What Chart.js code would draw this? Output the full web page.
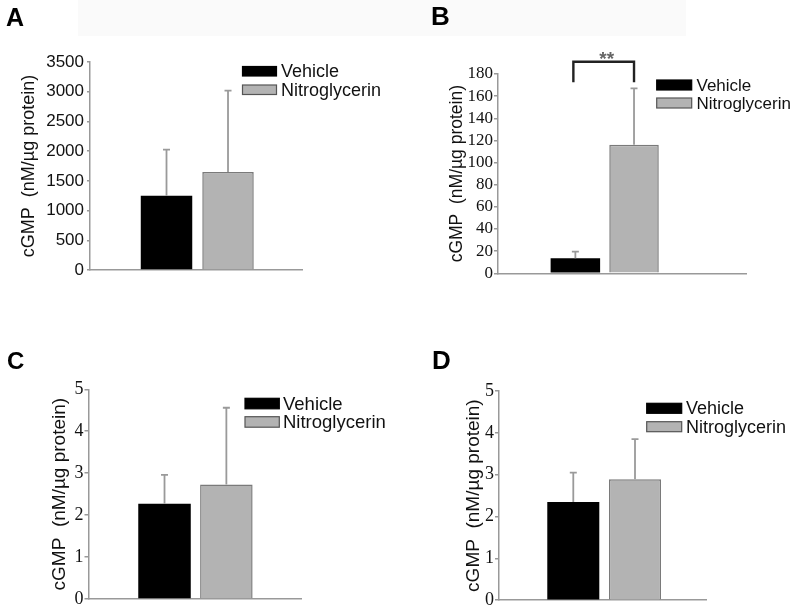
<!DOCTYPE html>
<html>
<head>
<meta charset="utf-8">
<script src="https://cdn.jsdelivr.net/npm/chart.js@4/dist/chart.umd.min.js"></script>
<style>
  html, body { margin: 0; padding: 0; background: #fff; }
  body { width: 800px; height: 612px; position: relative; overflow: hidden; font-family: "Liberation Sans", Arial, sans-serif; }
  .band { position: absolute; left: 78px; top: 0; width: 608px; height: 36px; background: #fafafa; }
  .panel { position: absolute; width: 400px; height: 306px; }
  .panel canvas { display: block; }
  .letter { position: absolute; font-weight: bold; line-height: 1; color: #000; font-family: "Liberation Sans", Arial, sans-serif; }
</style>
</head>
<body>
<div class="band"></div>
<div class="panel" style="left:0;top:0"><canvas id="cA" width="400" height="306"></canvas></div>
<div class="panel" style="left:400px;top:0"><canvas id="cB" width="400" height="306"></canvas></div>
<div class="panel" style="left:0;top:306px"><canvas id="cC" width="400" height="306"></canvas></div>
<div class="panel" style="left:400px;top:306px"><canvas id="cD" width="400" height="306"></canvas></div>
<div class="letter" style="left:6px;top:5px;font-size:25px">A</div>
<div class="letter" style="left:431px;top:3px;font-size:26px">B</div>
<div class="letter" style="left:7px;top:349px;font-size:24px">C</div>
<div class="letter" style="left:432px;top:347px;font-size:26px">D</div>
<script>
// ---------------- DATA ----------------
const categories = ['Vehicle', 'Nitroglycerin'];

const meansA  = [1250, 1650];
const errorsA = [775, 1370];
const ticksA  = [0, 500, 1000, 1500, 2000, 2500, 3000, 3500];

const meansB  = [13.5, 116];
const errorsB = [6, 51];
const ticksB  = [0, 20, 40, 60, 80, 100, 120, 140, 160, 180];

const meansC  = [2.27, 2.73];
const errorsC = [0.69, 1.83];
const ticksC  = [0, 1, 2, 3, 4, 5];

const meansD  = [2.35, 2.89];
const errorsD = [0.70, 0.96];
const ticksD  = [0, 1, 2, 3, 4, 5];

const yTitle = 'cGMP  (nM/\u00B5g protein)';
const sigB = { legLow: 172.5, barTop: 191, label: '**' };

// ---------------- STYLE ----------------
const SANS = '"Liberation Sans", Arial, sans-serif';
const SERIF = '"Liberation Serif", "Times New Roman", serif';
const barFill = ['#000000', '#b3b3b3'];
const barBorder = ['#000000', '#7a7a7a'];
const axisColor = '#999999';
const errColor = '#9a9a9a';

const panels = [
  { id: 'cA', means: meansA, errors: errorsA, ticks: ticksA,
    area: { l: 90, r: 302, t: 62, b: 270 }, titleX: 29, titleSize: 18,
    xMin: -1.244, xMax: 2.203, bp: 0.837,
    tickFont: { family: SANS, size: 17 }, tickLen: 3, tickPad: 3,
    legend: { x: 242.5, y: 66.5, w: 34, h: 9.5, dy: 18.5, tx: 281, size: 18 } },
  { id: 'cB', means: meansB, errors: errorsB, ticks: ticksB,
    area: { l: 98, r: 346.7, t: 74, b: 273.3 }, titleX: 57.5, titleSize: 17.5,
    xMin: -1.319, xMax: 2.921, bp: 0.844,
    tickFont: { family: SERIF, size: 17 }, tickLen: 4, tickPad: 1,
    legend: { x: 256.7, y: 80, w: 35, h: 10, dy: 18, tx: 296.5, size: 17 },
    sig: sigB },
  { id: 'cC', means: meansC, errors: errorsC, ticks: ticksC,
    area: { l: 88.5, r: 301.7, t: 83.3, b: 293 }, titleX: 60, titleSize: 19,
    xMin: -1.229, xMax: 2.218, bp: 0.849,
    tickFont: { family: SERIF, size: 18 }, tickLen: 4, tickPad: 1,
    legend: { x: 245, y: 92.3, w: 34.3, h: 10.5, dy: 18.4, tx: 283, size: 18.5 } },
  { id: 'cD', means: meansD, errors: errorsD, ticks: ticksD,
    area: { l: 99, r: 306.7, t: 85, b: 295.7 }, titleX: 73.3, titleSize: 19,
    xMin: -1.204, xMax: 2.162, bp: 0.843,
    tickFont: { family: SERIF, size: 18 }, tickLen: 4, tickPad: 1,
    legend: { x: 246.7, y: 97.3, w: 35, h: 10, dy: 18.4, tx: 286, size: 18 } }
];

const panelPlugin = {
  id: 'panelExtras',
  afterDatasetsDraw(chart, args, opts) {
    const p = opts.panel;
    const ctx = chart.ctx;
    const y = chart.scales.y;
    ctx.save();
    ctx.strokeStyle = errColor;
    ctx.lineWidth = 1.8;
    chart.data.datasets.forEach((ds, i) => {
      const bar = chart.getDatasetMeta(i).data[0];
      const top = y.getPixelForValue(p.means[i] + p.errors[i]);
      ctx.beginPath();
      ctx.moveTo(bar.x, bar.y);
      ctx.lineTo(bar.x, top);
      ctx.moveTo(bar.x - 3.5, top);
      ctx.lineTo(bar.x + 3.5, top);
      ctx.stroke();
    });
    ctx.restore();
  },
  afterDraw(chart, args, opts) {
    const p = opts.panel;
    const ctx = chart.ctx;
    const y = chart.scales.y;
    const L = p.legend;
    ctx.save();
    categories.forEach((c, i) => {
      const by = L.y + i * L.dy;
      ctx.fillStyle = barFill[i];
      ctx.fillRect(L.x, by, L.w, L.h);
      ctx.strokeStyle = i === 0 ? '#000' : '#555';
      ctx.lineWidth = 1.2;
      ctx.strokeRect(L.x, by, L.w, L.h);
      ctx.fillStyle = '#111';
      ctx.font = L.size + 'px ' + SANS;
      ctx.textAlign = 'left';
      ctx.textBaseline = 'middle';
      ctx.fillText(c, L.tx, by + L.h / 2 + 1);
    });
    ctx.restore();
    if (p.sig) {
      const b0 = chart.getDatasetMeta(0).data[0];
      const b1 = chart.getDatasetMeta(1).data[0];
      const yLow = y.getPixelForValue(p.sig.legLow);
      const yTop = y.getPixelForValue(p.sig.barTop);
      ctx.save();
      ctx.strokeStyle = '#222';
      ctx.lineWidth = 2.4;
      ctx.lineJoin = 'miter';
      ctx.beginPath();
      ctx.moveTo(b0.x - 2, yLow);
      ctx.lineTo(b0.x - 2, yTop);
      ctx.lineTo(b1.x, yTop);
      ctx.lineTo(b1.x, yLow);
      ctx.stroke();
      ctx.fillStyle = '#666';
      ctx.font = 'bold 19px ' + SANS;
      ctx.textAlign = 'center';
      ctx.textBaseline = 'alphabetic';
      ctx.fillText(p.sig.label, (b0.x + b1.x) / 2 + 2, yTop + 3);
      ctx.restore();
    }
  }
};

panels.forEach(p => {
  const yW = p.area.l - (p.titleX - p.titleSize * 0.6);
  const datasets = categories.map((c, i) => ({
    label: c,
    data: [{ x: i, y: p.means[i] }],
    backgroundColor: barFill[i],
    borderColor: barBorder[i],
    borderWidth: i === 0 ? 0 : 1.5,
    grouped: false,
    barPercentage: p.bp,
    categoryPercentage: 1
  }));
  new Chart(document.getElementById(p.id), {
    type: 'bar',
    data: { datasets },
    plugins: [panelPlugin],
    options: {
      responsive: false,
      animation: false,
      devicePixelRatio: 1,
      layout: { padding: { left: p.area.l - yW, right: 400 - p.area.r, top: p.area.t, bottom: 306 - p.area.b } },
      plugins: {
        legend: { display: false },
        tooltip: { enabled: false },
        panelExtras: { panel: p }
      },
      scales: {
        x: {
          type: 'linear',
          min: p.xMin, max: p.xMax,
          offset: false,
          grid: { display: false },
          border: { display: true, color: axisColor, width: 1.5 },
          ticks: { display: false },
          afterBuildTicks: s => { s.ticks = categories.map((c, i) => ({ value: i })); },
          afterFit: s => { s.height = 0; }
        },
        y: {
          min: p.ticks[0], max: p.ticks[p.ticks.length - 1],
          grid: { display: true, drawOnChartArea: false, drawTicks: true, tickLength: p.tickLen, color: axisColor, lineWidth: 1.5 },
          border: { display: true, color: axisColor, width: 1.5 },
          ticks: {
            font: p.tickFont, color: '#111', padding: p.tickPad,
            autoSkip: false,
            callback: v => String(v)
          },
          afterBuildTicks: s => { s.ticks = p.ticks.map(v => ({ value: v })); },
          afterFit: s => { s.width = yW; },
          title: {
            display: true, text: yTitle, color: '#111',
            font: { family: SANS, size: p.titleSize },
            padding: { top: 0, bottom: 0 }
          }
        }
      }
    }
  });
});
</script>
</body>
</html>
